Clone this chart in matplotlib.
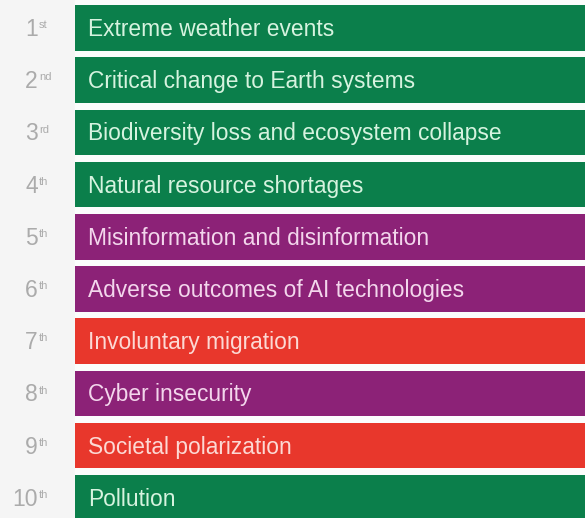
import matplotlib.pyplot as plt

risks = [
    "Extreme weather events",
    "Critical change to Earth systems",
    "Biodiversity loss and ecosystem collapse",
    "Natural resource shortages",
    "Misinformation and disinformation",
    "Adverse outcomes of AI technologies",
    "Involuntary migration",
    "Cyber insecurity",
    "Societal polarization",
    "Pollution",
]
ranks = ["1", "2", "3", "4", "5", "6", "7", "8", "9", "10"]
suffixes = ["st", "nd", "rd", "th", "th", "th", "th", "th", "th", "th"]
categories = ["env", "env", "env", "env", "tech", "tech", "soc", "tech", "soc", "env"]

colors = {"env": "#0b7f4b", "tech": "#8c2277", "soc": "#e8372c"}
text_colors = {"env": "#d6f3df", "tech": "#f3d6ec", "soc": "#fcd9d4"}

plt.rcParams["font.family"] = ["Liberation Sans", "DejaVu Sans"]

fig = plt.figure(figsize=(5.85, 5.18), dpi=100)
fig.patch.set_facecolor("#f5f5f5")
ax = fig.add_axes([0, 0, 1, 1])
ax.set_facecolor("#f5f5f5")

# white gaps between the bars on the right side
ax.axvspan(75, 585, color="#fbfdfc", zorder=0)

ypos = list(range(len(risks)))
ax.barh(ypos, [510] * len(risks), left=75, height=0.875,
        color=[colors[c] for c in categories], zorder=1)

for i, (name, cat) in enumerate(zip(risks, categories)):
    ax.text(88, i + 0.03, name, ha="left", va="center", fontsize=16.4,
            color=text_colors[cat], zorder=2)
    ax.text(38, i + 0.03, ranks[i], ha="right", va="center", fontsize=16.5,
            color="#ababab")
    ax.text(39, i - 0.15, suffixes[i], ha="left", va="top", fontsize=8,
            color="#ababab")

ax.set_xlim(0, 585)
ax.set_ylim(9.387, -0.536)
ax.axis("off")

fig.savefig("out.png", dpi=100, facecolor=fig.get_facecolor())
